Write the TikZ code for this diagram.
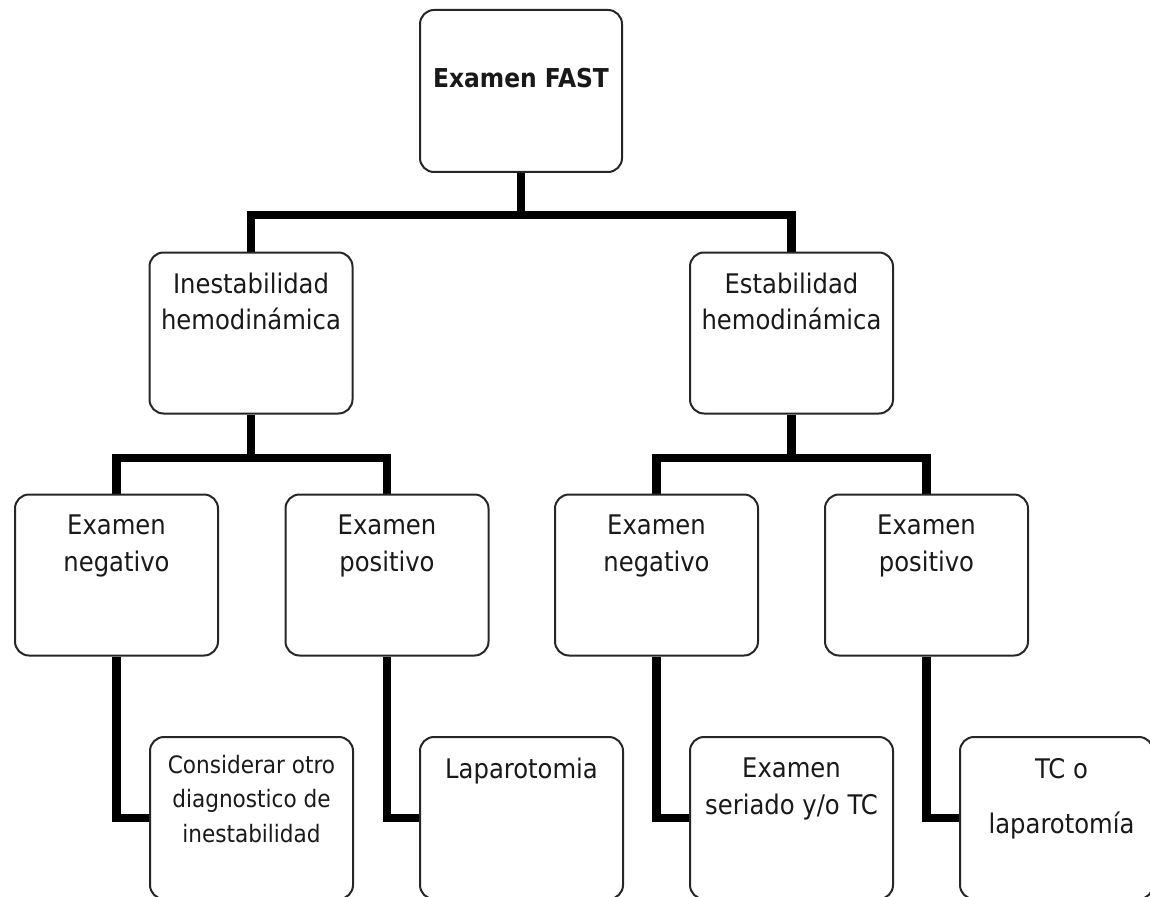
\documentclass[tikz,border=0pt]{standalone}
\usepackage{fontspec}
\setmainfont{DejaVu Sans Condensed}
\usetikzlibrary{backgrounds}
\begin{document}
\begin{tikzpicture}[x=1pt,y=-1pt,
  box/.style={draw=black!85, line width=2pt, rounded corners=14pt, fill=white,
    minimum width=203pt, minimum height=161pt, inner sep=0pt},
  conn/.style={line width=8.5pt, line join=miter, draw=black},
  txt/.style={anchor=north, align=center, inner sep=0pt, text=black!90},
  big/.style={txt, font=\fontsize{27}{37}\selectfont},
  small/.style={txt, font=\fontsize{24}{34.5}\selectfont}]
\useasboundingbox (0,0) rectangle (1150,896);
\clip (0,0) rectangle (1150,896);

% junction coordinates
\coordinate (j0) at (521,215);
\coordinate (j1) at (251,458);
\coordinate (j2) at (791.5,458);

% boxes
\node[box, minimum width=202pt, minimum height=162pt] (fast) at (521,91) {};
\node[box] (inest) at (251,333) {};
\node[box] (est) at (791.5,333) {};
\node[box] (neg1) at (116.5,575) {};
\node[box] (pos1) at (387,575) {};
\node[box] (neg2) at (656.5,575) {};
\node[box] (pos2) at (926.5,575) {};
\node[box, minimum height=162pt] (cons) at (251.5,818) {};
\node[box, minimum height=162pt] (lap) at (521.5,818) {};
\node[box, minimum height=162pt] (ser) at (791.5,818) {};
\node[box, minimum height=162pt, minimum width=193pt] (tcl) at (1056.5,818) {};

% connectors (behind boxes)
\begin{scope}[on background layer]
\draw[conn] (fast.south) -- (j0);
\draw[conn] (inest.north) |- (j0) -| (est.north);
\draw[conn] (inest.south) -- (j1);
\draw[conn] (neg1.north) |- (j1) -| (pos1.north);
\draw[conn] (est.south) -- (j2);
\draw[conn] (neg2.north) |- (j2) -| (pos2.north);
\draw[conn] (neg1.south) |- (cons.west);
\draw[conn] (pos1.south) |- (lap.west);
\draw[conn] (neg2.south) |- (ser.west);
\draw[conn] (pos2.south) |- (tcl.west);
\end{scope}

% texts
\node[txt, font=\fontsize{26}{32}\selectfont\bfseries] (tfast) at (521,68) {Examen FAST};
\node[big, font=\fontsize{27}{36}\selectfont] (tinest) at (251,273) {Inestabilidad\\hemodinámica};
\node[big, font=\fontsize{27}{36}\selectfont] (test) at (791.5,273) {Estabilidad\\hemodinámica};
\node[big] (tneg1) at (116.5,515) {Examen\\negativo};
\node[big] (tpos1) at (387,515) {Examen\\positivo};
\node[big] (tneg2) at (656.5,515) {Examen\\negativo};
\node[big] (tpos2) at (926.5,515) {Examen\\positivo};
\node[small] (tcons) at (251.5,755) {Considerar otro\\diagnostico de\\inestabilidad};
\node[big] (tlap) at (521.5,757.5) {Laparotomia};
\node[big] (tser) at (791.5,758) {Examen\\seriado y/o TC};
\node[big, font=\fontsize{27}{55}\selectfont] (ttcl) at (1061.5,758) {TC o\\laparotomía};
\end{tikzpicture}
\end{document}
